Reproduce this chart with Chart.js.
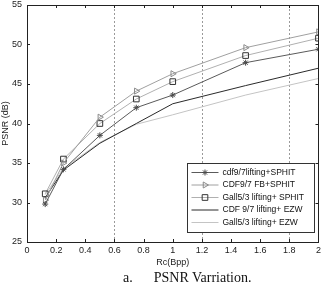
<!DOCTYPE html>
<html>
<head>
<meta charset="utf-8">
<script src="https://cdn.jsdelivr.net/npm/chart.js@4/dist/chart.umd.min.js"></script>
<style>
  body { margin: 0; background: #fff; }
  #wrap { position: relative; width: 324px; height: 289px; }
  #caption { position: absolute; left: 123px; top: 270px; font-family: "Liberation Serif", serif; font-size: 14px; color: #111; white-space: pre; }
</style>
</head>
<body>
<div id="wrap">
  <canvas id="psnrChart" width="324" height="289"></canvas>
  <div id="caption">a.      PSNR Varriation.</div>
</div>
<script>
// bit rates (Bpp)
var rates = [0.125, 0.25, 0.5, 0.75, 1, 1.5, 2];
var cdfLiftSpiht = [29.8, 34.2, 38.5, 42.0, 43.6, 47.7, 49.4];
var cdfFbSpiht = [30.3, 35.0, 40.8, 44.1, 46.3, 49.6, 51.6];
var gallLiftSpiht = [31.1, 35.5, 40.0, 43.1, 45.3, 48.6, 50.8];
var cdfLiftEzw = [30.6, 34.1, 37.5, 40.0, 42.5, 44.8, 47.0];
var gallLiftEzw = [31.0, 34.3, 37.6, 39.9, 41.1, 43.6, 45.7];
var seriesNames = ["cdf9/7lifting+SPHIT", "CDF9/7 FB+SPHIT", "Gall5/3 lifting+ SPHIT", "CDF 9/7 lifting+ EZW", "Gall5/3 lifting+ EZW"];
var gridAt = [0.6, 1.2, 1.8];

function pts(vals) {
    return rates.map(function(r, i) { return {x: r, y: vals[i]}; });
}

var font = "'Liberation Sans', Arial, sans-serif";

// box, inward ticks, dashed grid and legend, matlab style
var matlabAxes = {
    id: 'matlabAxes',
    beforeDatasetsDraw: function(chart) {
        var c = chart.ctx, xs = chart.scales.x, a = chart.chartArea;
        c.save();
        c.strokeStyle = '#9a9a9a';
        c.lineWidth = 1;
        c.setLineDash([2, 2]);
        gridAt.forEach(function(v) {
            var px = Math.round(xs.getPixelForValue(v)) + 0.5;
            c.beginPath(); c.moveTo(px, a.top); c.lineTo(px, a.bottom); c.stroke();
        });
        c.restore();
    },
    afterDraw: function(chart) {
        var c = chart.ctx, xs = chart.scales.x, ys = chart.scales.y, a = chart.chartArea;
        c.save();
        c.strokeStyle = '#222';
        c.lineWidth = 1;
        c.strokeRect(Math.round(a.left) + 0.5, Math.round(a.top) + 0.5, Math.round(a.right - a.left), Math.round(a.bottom - a.top));
        c.beginPath();
        xs.ticks.forEach(function(t) {
            var px = Math.round(xs.getPixelForValue(t.value)) + 0.5;
            c.moveTo(px, a.bottom); c.lineTo(px, a.bottom - 3);
            c.moveTo(px, a.top); c.lineTo(px, a.top + 3);
        });
        ys.ticks.forEach(function(t) {
            var py = Math.round(ys.getPixelForValue(t.value)) + 0.5;
            c.moveTo(a.left, py); c.lineTo(a.left + 3, py);
            c.moveTo(a.right, py); c.lineTo(a.right - 3, py);
        });
        c.stroke();

        // legend box in lower right corner
        var lx = a.right - 131, ly = a.bottom - 79, lw = 127, lh = 69;
        c.fillStyle = '#fff';
        c.fillRect(lx, ly, lw, lh);
        c.strokeStyle = '#333';
        c.strokeRect(Math.round(lx) + 0.5, Math.round(ly) + 0.5, lw, lh);
        c.font = '8.5px ' + font;
        c.textBaseline = 'middle';
        chart.data.datasets.forEach(function(ds, i) {
            var yy = ly + 9.5 + i * 12.5;
            c.strokeStyle = ds.borderColor;
            c.lineWidth = 1;
            c.beginPath(); c.moveTo(lx + 4, yy); c.lineTo(lx + 31, yy); c.stroke();
            if (ds.pointStyle) {
                c.fillStyle = 'rgba(0,0,0,0)';
                c.strokeStyle = ds.pointBorderColor;
                Chart.helpers.drawPoint(c, {
                    pointStyle: ds.pointStyle, rotation: ds.pointRotation || 0,
                    radius: ds.pointRadius, borderWidth: 1
                }, lx + 17.5, yy);
            }
            c.fillStyle = '#111';
            c.fillText(seriesNames[i], lx + 35, yy);
        });
        c.restore();
    }
};

var ctx = document.getElementById('psnrChart').getContext('2d');
var chart = new Chart(ctx, {
    type: 'line',
    data: {
        datasets: [{
            label: seriesNames[0],
            data: pts(cdfLiftSpiht),
            borderColor: '#5a5a5a',
            pointBorderColor: '#4a4a4a',
            pointBackgroundColor: 'transparent',
            pointStyle: 'star',
            pointRadius: 3
        }, {
            label: seriesNames[1],
            data: pts(cdfFbSpiht),
            borderColor: '#a0a0a0',
            pointBorderColor: '#8a8a8a',
            pointBackgroundColor: 'transparent',
            pointStyle: 'triangle',
            pointRotation: 90,
            pointRadius: 3.5
        }, {
            label: seriesNames[2],
            data: pts(gallLiftSpiht),
            borderColor: '#b0b0b0',
            pointBorderColor: '#333',
            pointBackgroundColor: 'transparent',
            pointStyle: 'rect',
            pointRadius: 4
        }, {
            label: seriesNames[3],
            data: pts(cdfLiftEzw),
            borderColor: '#2a2a2a',
            pointRadius: 0
        }, {
            label: seriesNames[4],
            data: pts(gallLiftEzw),
            borderColor: '#c4c4c4',
            pointRadius: 0
        }]
    },
    options: {
        responsive: false,
        animation: false,
        events: [],
        elements: { line: { borderWidth: 1, tension: 0 }, point: { borderWidth: 1 } },
        layout: { padding: { top: 2, right: 2, left: 0, bottom: 21 } },
        plugins: { legend: { display: false }, tooltip: { enabled: false } },
        scales: {
            x: {
                type: 'linear', min: 0, max: 2,
                grid: { display: false, drawTicks: false, tickLength: 0 }, border: { display: false },
                ticks: {
                    stepSize: 0.2, padding: 3, color: '#222', maxRotation: 0,
                    font: { family: font, size: 9 },
                    callback: function(v) { return Math.round(v * 10) / 10; }
                },
                title: { display: true, text: 'Rc(Bpp)', color: '#222', font: { family: font, size: 9 }, padding: 0 },
                afterFit: function(s) { s.height = 26; }
            },
            y: {
                min: 25, max: 55,
                grid: { display: false, drawTicks: false, tickLength: 0 }, border: { display: false },
                ticks: { stepSize: 5, padding: 5, color: '#222', font: { family: font, size: 9 } },
                title: { display: true, text: 'PSNR (dB)', color: '#222', font: { family: font, size: 9 }, padding: 0 },
                afterFit: function(s) { s.width = 27; s.paddingTop = 0; s.paddingBottom = 0; }
            }
        }
    },
    plugins: [matlabAxes]
});
</script>
</body>
</html>
